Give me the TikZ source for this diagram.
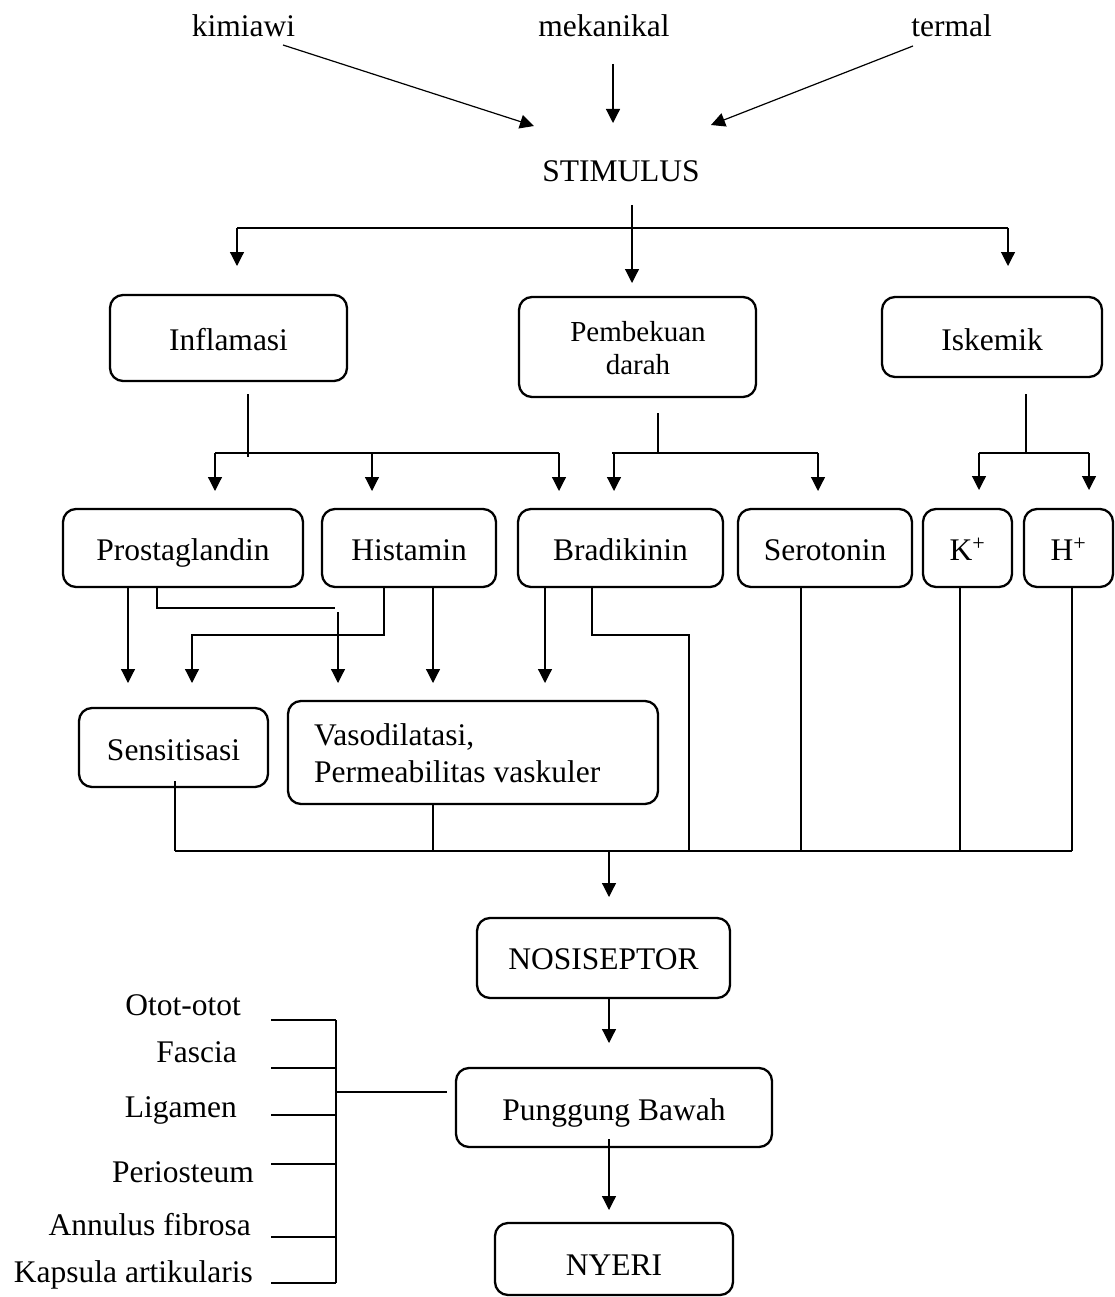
\documentclass[tikz,border=0pt]{standalone}
\usepackage{fontspec}
\setmainfont{Liberation Serif}
\usetikzlibrary{arrows.meta}
\newcommand{\fmain}{\fontsize{31.5}{36}\selectfont}
\newcommand{\fsmall}{\fontsize{29}{33}\selectfont}
\begin{document}
\begin{tikzpicture}[x=1pt,y=-1pt,
  lbl/.style={font=\fmain, inner sep=0pt, anchor=base},
  box/.style={draw, line width=2.3pt, rounded corners=13pt, inner sep=0pt,
    font=\fmain, text height=24pt, text depth=0pt, minimum height=78pt},
  con/.style={line width=1.2pt},
  arr/.style={con, -{Triangle[length=14pt,width=14pt]}}]
\useasboundingbox (0,0) rectangle (1114,1297);

% top labels
\node[lbl] (kim) at (243.5,37) {kimiawi};
\node[lbl] (mek) at (604,37) {mekanikal};
\node[lbl] (ter) at (951.5,37) {termal};
\node[lbl] (stim) at (621,182) {STIMULUS};

% first row boxes
\node[box, minimum width=237pt, minimum height=86pt] (infl) at (228.5,338) {Inflamasi};
\node[box, minimum width=237pt, minimum height=100pt] (pemb) at (637.5,347) {};
\node[lbl, font=\fsmall] (pembA) at (638,341) {Pembekuan};
\node[lbl, font=\fsmall] (pembB) at (638,374) {darah};
\node[box, minimum width=220pt, minimum height=80pt, text height=26pt] (isk) at (992,337) {Iskemik};

% second row boxes
\node[box, minimum width=240pt] (prost) at (183,548) {Prostaglandin};
\node[box, minimum width=174pt] (hist) at (409,548) {Histamin};
\node[box, minimum width=205pt] (brad) at (620.5,548) {Bradikinin};
\node[box, minimum width=174pt] (sero) at (825,548) {Serotonin};
\node[box, minimum width=89pt] (kion) at (967.5,548) {K\textsuperscript{+}};
\node[box, minimum width=89pt] (hion) at (1068.5,548) {H\textsuperscript{+}};

% third row boxes
\node[box, minimum width=189pt, minimum height=79pt, text height=25pt] (sens) at (173.5,747.5) {Sensitisasi};
\node[box, minimum width=370pt, minimum height=103pt] (vaso) at (473,752.5) {};
\node[lbl, anchor=base west] (vasoA) at (314,745) {Vasodilatasi,};
\node[lbl, anchor=base west] (vasoB) at (314,782) {Permeabilitas vaskuler};

% lower boxes
\node[box, minimum width=253pt, minimum height=80pt, text height=22pt] (nosi) at (603.5,958) {NOSISEPTOR};
\node[box, minimum width=316pt, minimum height=79pt, text height=25pt] (pung) at (614,1107.5) {Punggung Bawah};
\node[box, minimum width=238pt, minimum height=72pt, text height=32pt] (nyeri) at (614,1259) {NYERI};

% left labels
\node[lbl, anchor=base east] (l1) at (241,1015) {Otot-otot};
\node[lbl, anchor=base east] (l2) at (237,1062) {Fascia};
\node[lbl, anchor=base east] (l3) at (237,1117) {Ligamen};
\node[lbl, anchor=base east] (l4) at (254,1182) {Periosteum};
\node[lbl, anchor=base east] (l5) at (251,1235) {Annulus fibrosa};
\node[lbl, anchor=base east] (l6) at (253,1282) {Kapsula artikularis};

% stimulus sources
\coordinate (kimS) at (283,45);  \coordinate (kimE) at (534,126);
\coordinate (mekS) at (613,64);  \coordinate (mekE) at (613,123);
\coordinate (terS) at (913,46);  \coordinate (terE) at (711,125);
\draw[arr] (kimS) -- (kimE);
\draw[arr] (mekS) -- (mekE);
\draw[arr] (terS) -- (terE);

% stimulus split
\coordinate (stimS) at (632,205);
\draw[arr] (stimS) -- (632,283);
\draw[con] (237,228) -- (1008,228);
\draw[arr] (237,228) -- (237,266);
\draw[arr] (1008,228) -- (1008,266);

% inflamasi branch
\draw[con] (248,394) -- (248,457);
\draw[con] (215,453) -- (559,453);
\draw[arr] (215,453) -- (215,491);
\draw[arr] (372,453) -- (372,491);
\draw[arr] (559,453) -- (559,491);

% pembekuan branch
\draw[con] (658,413) -- (658,453);
\draw[con] (612,453) -- (818,453);
\draw[arr] (614,453) -- (614,491);
\draw[arr] (818,453) -- (818,491);

% iskemik branch
\draw[con] (1026,394) -- (1026,453);
\draw[con] (979,453) -- (1089,453);
\draw[arr] (979,453) -- (979,490);
\draw[arr] (1089,453) -- (1089,490);

% from second row
\draw[arr] (prost.south -| 128,0) -- (128,683);
\draw[con] (prost.south -| 157,0) -- (157,608) -- (335,608);
\draw[arr] (338,612) -- (338,683);
\draw[arr] (hist.south -| 384,0) -- (384,635) -- (192,635) -- (192,683);
\draw[arr] (hist.south -| 433,0) -- (433,683);
\draw[arr] (brad.south -| 545,0) -- (545,683);
\draw[con] (brad.south -| 592,0) -- (592,635) -- (689,635) -- (689,851);
\draw[con] (sero.south -| 801,0) -- (801,851);
\draw[con] (kion.south -| 960,0) -- (960,851);
\draw[con] (hion.south -| 1072,0) -- (1072,851);

% collector
\draw[con] (175,781) -- (175,851);
\draw[con] (vaso.south -| 433,0) -- (433,851);
\draw[con] (175,851) -- (1072,851);
\draw[arr] (609,851) -- (609,897);

% lower chain
\draw[arr] (nosi.south -| 609,0) -- (609,1043);
\draw[arr] (609,1139) -- (609,1210);

% tissue bracket
\draw[con] (pung.west |- 0,1092) ++(-8,0) -- (336,1092);
\draw[con] (336,1020) -- (336,1283);
\foreach \yy in {1020,1068,1115,1164,1237,1283}
  \draw[con] (271,\yy) -- (336,\yy);
\end{tikzpicture}
\end{document}
